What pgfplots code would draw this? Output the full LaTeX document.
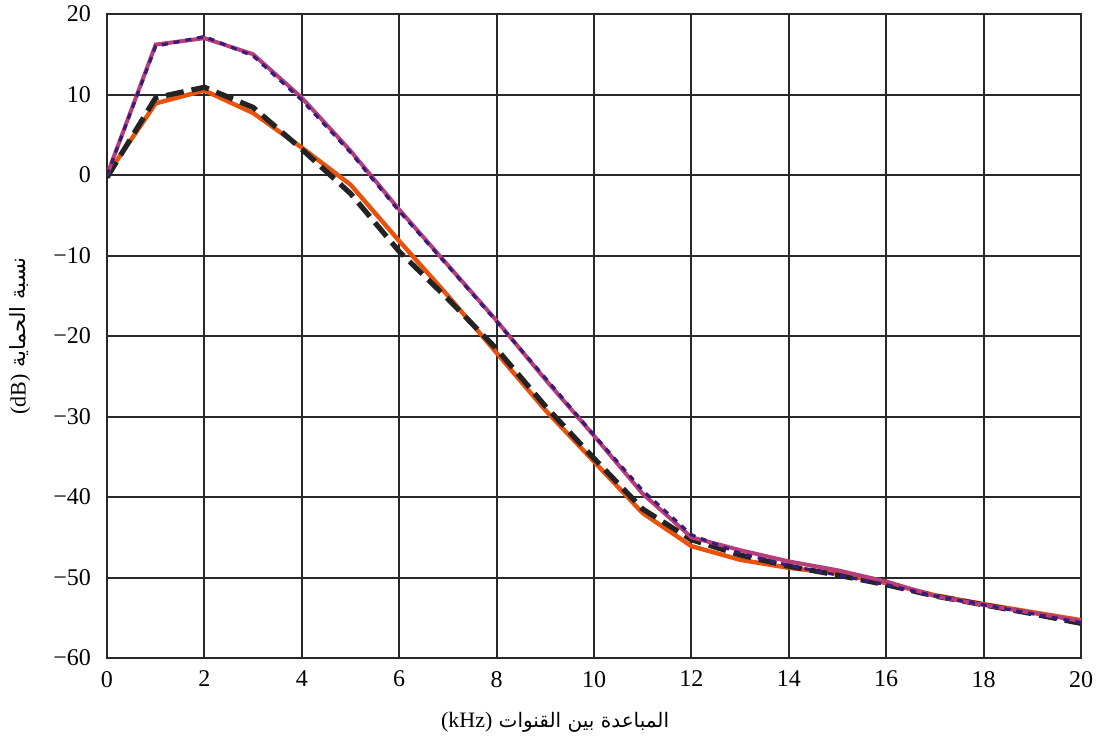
\documentclass[border=0pt]{standalone}
\usepackage{pgfplots}
\pgfplotsset{compat=1.18}
\usepackage{fontspec}
\setmainfont{Liberation Serif}
\newfontfamily\arabicfont[Script=Arabic]{DejaVu Sans}
\TeXXeTstate=1
\definecolor{cpink}{RGB}{184,62,122}
\definecolor{corange}{RGB}{232,82,12}
\definecolor{cpurple}{RGB}{58,26,122}
\definecolor{cblack}{RGB}{35,35,35}
\definecolor{cgrid}{RGB}{40,40,40}
\begin{document}
\begin{tikzpicture}
\useasboundingbox (-53.5pt,-43pt) rectangle (494.5pt,329pt);
\begin{axis}[
  at={(0,0)}, anchor=south west,
  scale only axis,
  width=487pt, height=322pt,
  xmin=0, xmax=20, ymin=-60, ymax=20,
  xtick={0,2,...,20},
  ytick={-60,-50,...,20},
  yticklabels={−60,−50,−40,−30,−20,−10,0,10,20},
  xticklabel style={font=\fontsize{12}{14}\selectfont},
  yticklabel style={font=\fontsize{12}{14}\selectfont},
  /pgf/number format/assume math mode=true,
  grid=major,
  major grid style={cgrid, line width=1pt},
  axis line style={cgrid, line width=1pt},
  tick style={draw=none},
  xticklabel shift=3pt,
  yticklabel shift=4.5pt,
  xlabel={\fontsize{10}{12}\selectfont\arabicfont\beginR المباعدة بين القنوات \beginL{\rmfamily\fontsize{11}{12}\selectfont (kHz)}\endL\endR},
  ylabel={\fontsize{10.5}{12}\selectfont\arabicfont\beginR نسبة الحماية \beginL{\rmfamily\fontsize{11}{12}\selectfont (dB)}\endL\endR},
  xlabel style={at={(axis description cs:0.46,-0.0994)}, anchor=center},
  ylabel style={at={(axis description cs:-0.0893,0.5)}, anchor=center},
]
\addplot[corange, line width=2.2pt] coordinates {
(0,0) (1,8.9) (2,10.5) (3,7.7) (4,3.4) (5,-1.2) (6,-8.2) (7,-15) (8,-22.1) (9,-29.2) (10,-35.6) (11,-42) (12,-46.1) (13,-47.8) (14,-48.8) (15,-49.5) (16,-50.7) (17,-52.2) (18,-53.3) (19,-54.3) (20,-55.3)};
\addplot[cblack, line width=2.6pt, dash pattern=on 9pt off 4pt] coordinates {
(0,-0.3) (1,9.6) (2,10.9) (3,8.4) (4,3.2) (5,-2.3) (6,-9.5) (7,-15.4) (8,-21.6) (9,-28.7) (10,-35.2) (11,-41.5) (12,-45.3) (13,-47.2) (14,-48.6) (15,-49.7) (16,-50.9) (17,-52.3) (18,-53.4) (19,-54.5) (20,-55.7)};
\addplot[cpink, line width=2pt] coordinates {
(0,0) (1,16.2) (2,17) (3,15) (4,9.6) (5,3) (6,-4.3) (7,-11.2) (8,-18.1) (9,-25.4) (10,-32.4) (11,-39.6) (12,-45) (13,-46.6) (14,-48) (15,-49.1) (16,-50.5) (17,-52.3) (18,-53.4) (19,-54.4) (20,-55.4)};
\addplot[cpurple, line width=1.6pt, dash pattern=on 3pt off 3pt] coordinates {
(0,0) (1,16) (2,17.2) (3,14.8) (4,9.3) (5,2.8) (6,-4.5) (7,-11.3) (8,-18.2) (9,-25.2) (10,-32.3) (11,-39.2) (12,-44.7) (13,-47) (14,-48.5) (15,-49.7) (16,-50.9) (17,-52.3) (18,-53.4) (19,-54.5) (20,-55.6)};
\end{axis}
\end{tikzpicture}
\end{document}
